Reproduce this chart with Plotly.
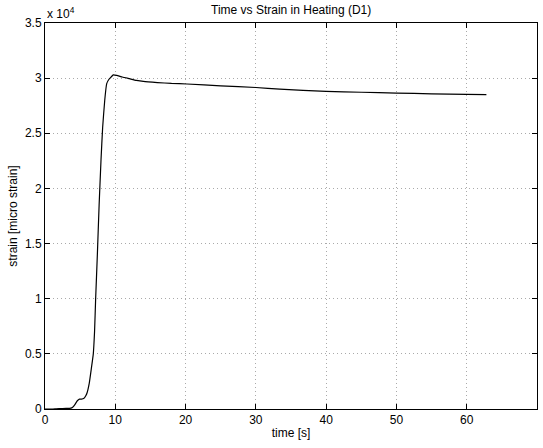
import plotly.graph_objects as go

time_s = [0, 1, 1.5, 2, 3, 3.5, 3.8, 4.0, 4.3, 4.6, 4.9, 5.2, 5.5, 5.8, 6.0, 6.3, 6.6, 6.87, 7.05, 7.2, 7.45, 7.7, 7.97, 8.2, 8.5, 8.78, 9.1, 9.4, 9.72, 10.2, 11, 12, 13, 14, 16, 18, 20.2, 25, 30, 33.4, 40, 45, 50, 55, 60, 62.8]
strain = [0, 0, 20, 40, 50, 60, 100, 200, 450, 750, 900, 900, 950, 1200, 1500, 2350, 3700, 5000, 7000, 9900, 14000, 18500, 22600, 25500, 28000, 29500, 29900, 30100, 30300, 30250, 30100, 29950, 29800, 29700, 29600, 29520, 29470, 29300, 29150, 29000, 28800, 28720, 28650, 28580, 28520, 28500]

xticks = [0, 10, 20, 30, 40, 50, 60, 70]
yticks = [0, 0.5, 1, 1.5, 2, 2.5, 3, 3.5]

fig = go.Figure()
fig.add_trace(go.Scatter(x=time_s, y=[v / 1e4 for v in strain], mode="lines",
                         line=dict(color="black", width=1.2, shape="spline", smoothing=0.4),
                         showlegend=False))

family = "Liberation Sans, Arial, sans-serif"
font = dict(family=family, size=12, color="black")
axis_common = dict(showline=True, linecolor="black", linewidth=1, mirror="ticks",
                   ticks="inside", ticklen=5, tickcolor="black", zeroline=False,
                   showgrid=True, gridcolor="#aaaaaa", griddash="1px,3px", gridwidth=1,
                   tickfont=font, automargin=False)

fig.update_layout(
    width=543, height=448,
    margin=dict(l=45, r=6, t=23, b=39),
    paper_bgcolor="white", plot_bgcolor="white",
    font=font,
    title=dict(text="Time vs Strain in Heating (D1)", x=0.5362, xanchor="center",
               y=0.978, yanchor="middle", font=dict(size=12, family=family, color="black")),
    xaxis=dict(range=[0, 70], tickvals=xticks, ticktext=[str(t) for t in xticks],
               title=dict(text="time [s]", font=font, standoff=2), **axis_common),
    yaxis=dict(range=[0, 3.5], tickvals=yticks, ticktext=[("%g" % t) for t in yticks],
               title=dict(text="strain [micro strain]", font=font, standoff=4), **axis_common),
    annotations=[dict(text="x 10<sup>4</sup>", xref="paper", yref="paper", x=0.0, y=1.0,
                      xanchor="left", yanchor="bottom", showarrow=False,
                      font=dict(size=12, family=family, color="black"))],
)

post = ("document.documentElement.style.overflow='hidden';"
        "document.body.style.margin='0';document.body.style.overflow='hidden';")
fig.write_html("out.html", config={"displayModeBar": False}, post_script=post)
